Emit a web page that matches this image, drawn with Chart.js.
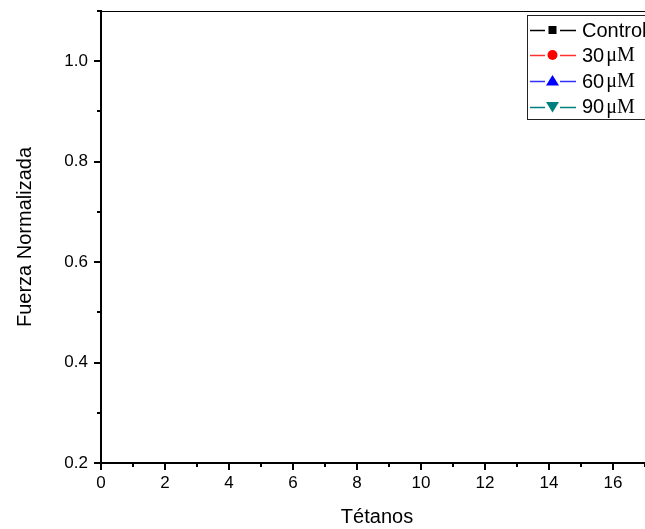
<!DOCTYPE html>
<html>
<head>
<meta charset="utf-8">
<script src="https://cdn.jsdelivr.net/npm/chart.js@4"></script>
<style>
  html, body { margin: 0; padding: 0; background: #fff; overflow: hidden; }
  #wrap { position: relative; width: 653px; height: 529px; }
</style>
</head>
<body>
<div id="wrap"><canvas id="myChart"></canvas></div>
<script>
// datos (no hay puntos visibles en el grafico)
const tetanos = [];
const control = [];
const conc30 = [];
const conc60 = [];
const conc90 = [];

const series = ['Control', '30 μM', '60 μM', '90 μM'];
const colores = ['#000000', '#ff0000', '#0000ff', '#008080'];
const lineas = ['#000000', '#ff3030', '#3030ff', '#008080'];
const marcas = ['rect', 'circle', 'triangle', 'triangleDown'];

const yTicks = [0.2, 0.4, 0.6, 0.8, 1.0];
const xTicks = [0, 2, 4, 6, 8, 10, 12, 14, 16];

const fuente = '"Liberation Sans", Arial, sans-serif';

function puntos(xs, ys) {
    return xs.map((x, i) => ({ x: x, y: ys[i] }));
}

const valores = [control, conc30, conc60, conc90];

// marcas de los ejes (mayores y menores) + borde superior
const marcasEjes = {
    id: 'marcasEjes',
    afterDraw(chart) {
        const ctx = chart.ctx;
        const x = chart.scales.x;
        const y = chart.scales.y;
        const a = chart.chartArea;
        ctx.save();
        ctx.strokeStyle = '#000';
        ctx.lineWidth = 1;
        ctx.beginPath();
        ctx.moveTo(a.left, a.top + 0.5);
        ctx.lineTo(a.right, a.top + 0.5);
        ctx.stroke();

        ctx.lineWidth = 2;
        for (let i = 2; i <= 11; i++) {
            const py = Math.round(y.getPixelForValue(i / 10));
            const len = i % 2 === 0 ? 7 : 4;
            ctx.beginPath();
            ctx.moveTo(a.left, py);
            ctx.lineTo(a.left - len, py);
            ctx.stroke();
        }
        for (let i = 0; i <= 17; i++) {
            const px = Math.round(x.getPixelForValue(i));
            const len = i % 2 === 0 ? 7 : 4;
            ctx.beginPath();
            ctx.moveTo(px, a.bottom);
            ctx.lineTo(px, a.bottom + len);
            ctx.stroke();
        }
        ctx.restore();
    }
};

function dibujaMarca(ctx, tipo, cx, cy, color) {
    ctx.fillStyle = color;
    ctx.beginPath();
    if (tipo === 'rect') {
        ctx.rect(cx - 4, cy - 4, 8, 8);
    } else if (tipo === 'circle') {
        ctx.arc(cx, cy, 5, 0, Math.PI * 2);
    } else if (tipo === 'triangle') {
        ctx.moveTo(cx, cy - 6);
        ctx.lineTo(cx + 6.5, cy + 4.5);
        ctx.lineTo(cx - 6.5, cy + 4.5);
        ctx.closePath();
    } else {
        ctx.moveTo(cx, cy + 6);
        ctx.lineTo(cx + 6.5, cy - 4.5);
        ctx.lineTo(cx - 6.5, cy - 4.5);
        ctx.closePath();
    }
    ctx.fill();
}

// leyenda al estilo Origin
const leyenda = {
    id: 'leyenda',
    afterDraw(chart) {
        const ctx = chart.ctx;
        ctx.save();
        ctx.strokeStyle = '#222';
        ctx.lineWidth = 1;
        ctx.strokeRect(527.5, 15.5, 140, 104);
        const filas = [30, 55, 81, 106.5];
        chart.data.datasets.forEach((ds, i) => {
            const cy = filas[i];
            const ly = Math.round(cy) + 0.5;
            ctx.strokeStyle = ds.borderColor;
            ctx.lineWidth = 1.3;
            ctx.beginPath();
            ctx.moveTo(530, ly);
            ctx.lineTo(545, ly);
            ctx.moveTo(560, ly);
            ctx.lineTo(576, ly);
            ctx.stroke();
            dibujaMarca(ctx, ds.pointStyle, 552.5, cy, ds.backgroundColor);

            ctx.fillStyle = '#000';
            ctx.textBaseline = 'middle';
            ctx.textAlign = 'left';
            const partes = ds.label.split(' ');
            ctx.font = '20px ' + fuente;
            ctx.fillText(partes[0], 582, cy + 1);
            if (partes[1]) {
                const w = ctx.measureText(partes[0]).width;
                ctx.font = '20px "Liberation Serif", "Times New Roman", serif';
                ctx.fillText(partes[1], 582 + w + 2, cy + 1);
            }
        });
        ctx.restore();
    }
};

const ctx = document.getElementById('myChart').getContext('2d');

const myChart = new Chart(ctx, {
    type: 'line',
    data: {
        datasets: series.map((nombre, i) => ({
            label: nombre,
            data: puntos(tetanos, valores[i]),
            borderColor: lineas[i],
            backgroundColor: colores[i],
            pointStyle: marcas[i],
            borderWidth: 1
        }))
    },
    options: {
        responsive: true,
        maintainAspectRatio: false,
        animation: false,
        layout: { padding: { top: 11, left: 0, right: 0, bottom: 0 } },
        plugins: {
            legend: { display: false },
            tooltip: { enabled: false }
        },
        scales: {
            x: {
                type: 'linear',
                min: 0,
                max: 17.25,
                grid: { display: false, drawTicks: false },
                border: { display: true, color: '#000', width: 2 },
                ticks: {
                    stepSize: 1,
                    autoSkip: false,
                    maxRotation: 0,
                    padding: 10,
                    color: '#000',
                    font: { family: fuente, size: 17 },
                    callback: (v) => xTicks.includes(v) ? String(v) : ''
                },
                title: {
                    display: true,
                    text: 'Tétanos',
                    color: '#000',
                    font: { family: fuente, size: 20 },
                    padding: { top: 0, bottom: 0 }
                },
                afterFit(scale) {
                    scale.height = 66;
                    scale.paddingLeft = 0;
                    scale.paddingRight = 0;
                }
            },
            y: {
                min: 0.2,
                max: 1.1,
                grid: { display: false, drawTicks: false },
                border: { display: true, color: '#000', width: 2 },
                ticks: {
                    stepSize: 0.1,
                    autoSkip: false,
                    padding: 13,
                    color: '#000',
                    font: { family: fuente, size: 17 },
                    callback: (v) => {
                        const r = Math.round(v * 10) / 10;
                        return yTicks.some(t => Math.abs(t - r) < 1e-9) ? r.toFixed(1) : '';
                    }
                },
                title: {
                    display: true,
                    text: 'Fuerza Normalizada',
                    color: '#000',
                    font: { family: fuente, size: 20 },
                    padding: { top: 13, bottom: 0 }
                },
                afterFit(scale) {
                    scale.width = 101;
                    scale.paddingTop = 0;
                    scale.paddingBottom = 0;
                }
            }
        }
    },
    plugins: [marcasEjes, leyenda]
});
</script>
</body>
</html>
